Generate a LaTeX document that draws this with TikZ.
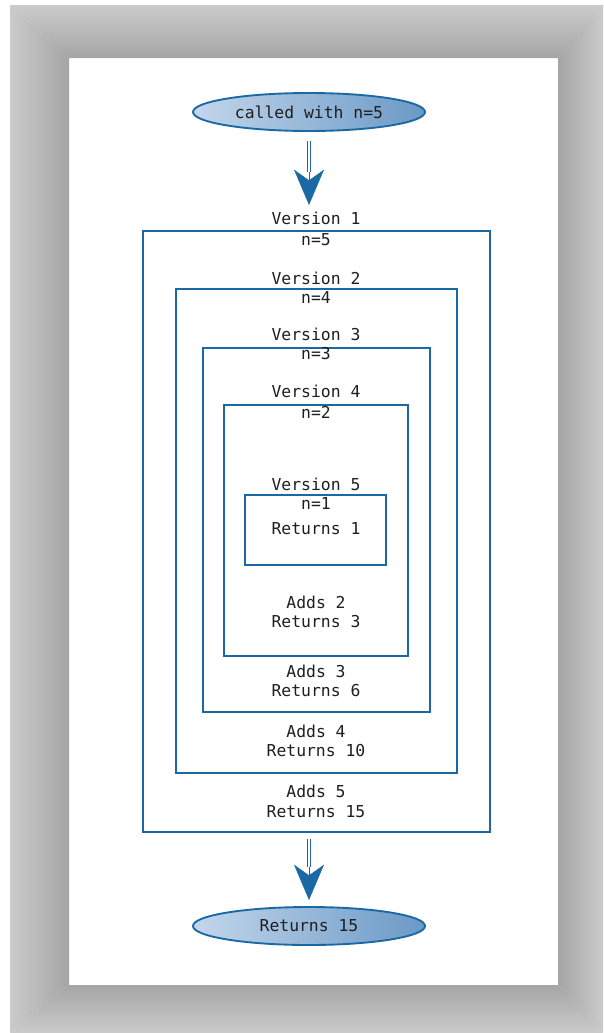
\documentclass[tikz,border=0pt]{standalone}
\usepackage{fontspec}
\setmonofont{DejaVu Sans Mono}
\usepackage{xcolor}
\usepackage{tikz}
\usetikzlibrary{shapes.geometric}
\usetikzlibrary{arrows.meta}
\usetikzlibrary{positioning}

\definecolor{recblue}{HTML}{1A69A4}
\definecolor{ovallight}{HTML}{C3D6EC}
\definecolor{ovaldark}{HTML}{6A99C6}
\definecolor{framelight}{HTML}{CBCBCB}
\definecolor{framedark}{HTML}{A5A5A5}

\begin{document}
\begin{tikzpicture}[
  x=0.03cm, y=-0.03cm,
  every node/.style={font=\ttfamily\fontsize{14}{16}\selectfont, text=black!88},
  txt/.style={inner sep=0pt},
  frame/.style={draw=recblue, line width=1.7pt, inner sep=0pt},
  oval/.style={ellipse, draw=recblue, line width=1.6pt, left color=ovallight,
    right color=ovaldark, minimum width=6.96cm, minimum height=1.14cm, inner sep=0pt},
  shaft/.style={draw=recblue, line width=1.3pt, double=white, double distance=1.5pt},
  head/.style={draw=recblue, fill=recblue, line width=0.4pt,
    -{Stealth[length=1.06cm, width=0.9cm, inset=0.32cm]}}
]
% page and grey mount
\fill[white] (0,0) rectangle (603,1033);
\shade[top color=framelight, bottom color=framedark] (10,5) -- (603,5) -- (558,58) -- (69,58) -- cycle;
\shade[top color=framedark, bottom color=framelight] (69,985) -- (558,985) -- (603,1033) -- (10,1033) -- cycle;
\shade[left color=framelight, right color=framedark] (10,5) -- (69,58) -- (69,985) -- (10,1033) -- cycle;
\shade[left color=framedark, right color=framelight] (603,5) -- (558,58) -- (558,985) -- (603,1033) -- cycle;

% start and end
\node[oval, text depth=-0.08cm] (call) at (309,112) {called with n=5};
\node[oval, text depth=-0.08cm] (result) at (309,926) {Returns 15};

% nested versions
\node[frame, minimum width=10.41cm, minimum height=18.03cm] (ver1) at (316.5,531.5) {};
\node[frame, minimum width=8.43cm, minimum height=14.52cm] (ver2) at (316.5,531) {};
\node[frame, minimum width=6.81cm, minimum height=10.92cm] (ver3) at (316.5,530) {};
\node[frame, minimum width=5.52cm, minimum height=7.53cm] (ver4) at (316,530.5) {};
\node[frame, minimum width=4.23cm, minimum height=2.1cm] (ver5) at (315.5,530) {};

\node[txt] (v1name) at (316,218) {Version 1};
\node[txt] (v1n) at (316,240) {n=5};
\node[txt] (v2name) at (316,278) {Version 2};
\node[txt] (v2n) at (316,298) {n=4};
\node[txt] (v3name) at (316,334) {Version 3};
\node[txt] (v3n) at (316,354) {n=3};
\node[txt] (v4name) at (316,391) {Version 4};
\node[txt] (v4n) at (316,412) {n=2};
\node[txt] (v5name) at (316,484) {Version 5};
\node[txt] (v5n) at (316,504) {n=1};
\node[txt] (v5ret) at (316,529) {Returns 1};

\node[txt] (v4add) at (316,602) {Adds 2};
\node[txt] (v4ret) at (316,622) {Returns 3};
\node[txt] (v3add) at (316,671) {Adds 3};
\node[txt] (v3ret) at (316,691) {Returns 6};
\node[txt] (v2add) at (316,731) {Adds 4};
\node[txt] (v2ret) at (316,751) {Returns 10};
\node[txt] (v1add) at (316,791) {Adds 5};
\node[txt] (v1ret) at (316,812) {Returns 15};

% arrows
\coordinate (inhead) at (309,166);
\coordinate (intip) at (309,205);
\coordinate (outhead) at (309,861);
\coordinate (outtip) at (309,900);
\draw[head] (inhead) -- (intip);
\draw[shaft, shorten <=0.27cm] (call.south) -- (309,172);
\draw[head] (outhead) -- (outtip);
\draw[shaft, shorten <=0.17cm] (outhead |- ver1.south) -- (309,867);
\end{tikzpicture}
\end{document}
